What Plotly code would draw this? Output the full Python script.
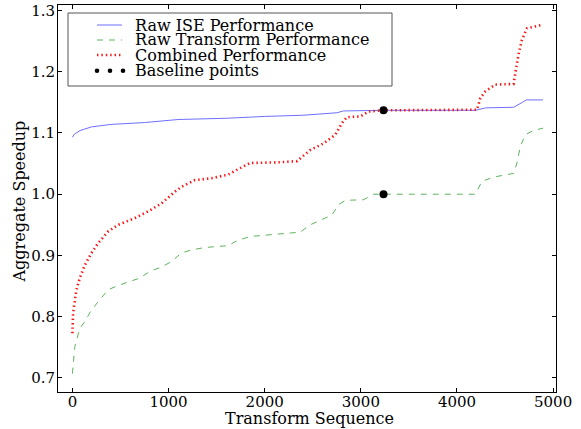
import plotly.graph_objects as go

# Raw ISE performance
ise_x = [0, 20, 80, 200, 400, 750, 1100, 1600, 2000, 2400, 2750, 2820, 3236, 4190, 4300, 4590, 4680, 4720, 4895]
ise_y = [1.093, 1.098, 1.104, 1.110, 1.114, 1.117, 1.122, 1.124, 1.127, 1.129, 1.133, 1.136, 1.137, 1.137, 1.141, 1.142, 1.150, 1.154, 1.154]

# Raw transform performance
tr_x = [0, 25, 77, 129, 198, 285, 371, 476, 597, 701, 805, 926, 1030, 1134, 1238, 1378, 1620, 1711, 1849, 1988,
        2231, 2369, 2473, 2577, 2699, 2768, 2838, 3028, 3132, 3236, 4190, 4260, 4381, 4589, 4624, 4659, 4711, 4780, 4895]
tr_y = [0.707, 0.751, 0.781, 0.792, 0.811, 0.827, 0.844, 0.851, 0.858, 0.863, 0.874, 0.881, 0.890, 0.904, 0.909, 0.913, 0.916, 0.924, 0.931, 0.933,
        0.936, 0.938, 0.950, 0.957, 0.966, 0.983, 0.990, 0.991, 1.000, 1.000, 1.000, 1.021, 1.028, 1.034, 1.051, 1.078, 1.097, 1.103, 1.108]

# Combined performance
co_x = [0, 7, 42, 77, 129, 198, 267, 371, 476, 649, 788, 926, 1065, 1134, 1273, 1446, 1620, 1676, 1849, 2127,
        2335, 2473, 2612, 2734, 2803, 2855, 2994, 3080, 3236, 4208, 4243, 4295, 4399, 4589, 4607, 4642, 4676, 4728, 4895]
co_y = [0.773, 0.806, 0.844, 0.863, 0.884, 0.904, 0.920, 0.939, 0.950, 0.961, 0.972, 0.985, 1.004, 1.012, 1.023, 1.026, 1.032, 1.037, 1.051, 1.052,
        1.054, 1.072, 1.083, 1.097, 1.116, 1.126, 1.127, 1.135, 1.137, 1.138, 1.157, 1.168, 1.179, 1.180, 1.198, 1.230, 1.252, 1.271, 1.277]

# Baseline points
base_x = [3236, 3236]
base_y = [1.137, 1.000]

series_names = ["Raw ISE Performance", "Raw Transform Performance", "Combined Performance", "Baseline points"]
x_tick_vals = [0, 1000, 2000, 3000, 4000, 5000]
y_tick_vals = [0.7, 0.8, 0.9, 1.0, 1.1, 1.2, 1.3]
y_tick_text = ["0.7", "0.8", "0.9", "1.0", "1.1", "1.2", "1.3"]

FONT = "DejaVu Serif"
W, H = 581, 429
L, R, T, B = 58, 556, 5, 392  # plot area in pixels


def px(xp):
    return (xp - L) / (R - L)


def py(yp):
    return (B - yp) / (B - T)


BLUE = "#6f6fff"
GREEN = "#5db35d"
RED = "#ff1010"
BLUE_LINE = dict(color=BLUE, width=1)
GREEN_LINE = dict(color=GREEN, width=1, dash="6px,6px")
RED_LINE = dict(color=RED, width=2.6, dash="1.4px,3px")

fig = go.Figure()
fig.add_trace(go.Scatter(x=ise_x, y=ise_y, mode="lines", name=series_names[0], line=BLUE_LINE))
fig.add_trace(go.Scatter(x=tr_x, y=tr_y, mode="lines", name=series_names[1], line=GREEN_LINE))
fig.add_trace(go.Scatter(x=co_x, y=co_y, mode="lines", name=series_names[2], line=RED_LINE))
fig.add_trace(go.Scatter(x=base_x, y=base_y, mode="markers", name=series_names[3],
                         marker=dict(color="black", size=8)))

axis_common = dict(showline=True, linecolor="black", linewidth=1, mirror="allticks",
                   ticks="inside", ticklen=4, tickcolor="black", showgrid=False, zeroline=False,
                   automargin=False, tickfont=dict(family=FONT, size=15, color="black"))

shapes = []
annotations = []

# Manual legend (matplotlib style)
shapes.append(dict(type="rect", xref="paper", yref="paper", x0=px(68), x1=px(392), y0=py(86), y1=py(13),
                   line=dict(color="#555555", width=1), fillcolor="white", layer="above"))
rows = [25, 40, 55, 70.7]
for i, line in enumerate([BLUE_LINE, GREEN_LINE, RED_LINE]):
    shapes.append(dict(type="line", xref="paper", yref="paper", x0=px(97), x1=px(122),
                       y0=py(rows[i]), y1=py(rows[i]), line=line, layer="above"))
for cx in [97, 110, 123]:
    r = 2.3
    shapes.append(dict(type="circle", xref="paper", yref="paper", x0=px(cx - r), x1=px(cx + r),
                       y0=py(rows[3] + r), y1=py(rows[3] - r), fillcolor="black",
                       line=dict(color="black", width=0), layer="above"))
for i, name in enumerate(series_names):
    annotations.append(dict(text=name, xref="paper", yref="paper", x=px(133), y=py(rows[i]),
                            xanchor="left", yanchor="middle", showarrow=False,
                            font=dict(family=FONT, size=16, color="black")))

# Axis titles
annotations.append(dict(text="Transform Sequence", xref="paper", yref="paper", x=px(309), y=py(418.5),
                        xanchor="center", yanchor="middle", showarrow=False,
                        font=dict(family=FONT, size=16, color="black")))
annotations.append(dict(text="Aggregate Speedup", xref="paper", yref="paper", x=px(19.5), y=py(202),
                        xanchor="center", yanchor="middle", showarrow=False, textangle=-90,
                        font=dict(family=FONT, size=16, color="black")))

fig.update_layout(
    width=W, height=H,
    margin=dict(l=L, r=W - R, t=T, b=H - B, autoexpand=False),
    paper_bgcolor="white", plot_bgcolor="white",
    font=dict(family=FONT, color="black"),
    xaxis=dict(range=[-150, 5030], tickvals=x_tick_vals, ticklabelstandoff=-4, **axis_common),
    yaxis=dict(range=[0.677, 1.309], tickvals=y_tick_vals, ticktext=y_tick_text, ticklabelstandoff=-1,
               **axis_common),
    showlegend=False,
    shapes=shapes,
    annotations=annotations,
)

fig.write_html("out.html", config={"displayModeBar": False},
               post_script="document.body.style.margin='0px';document.body.style.overflow='hidden';")
